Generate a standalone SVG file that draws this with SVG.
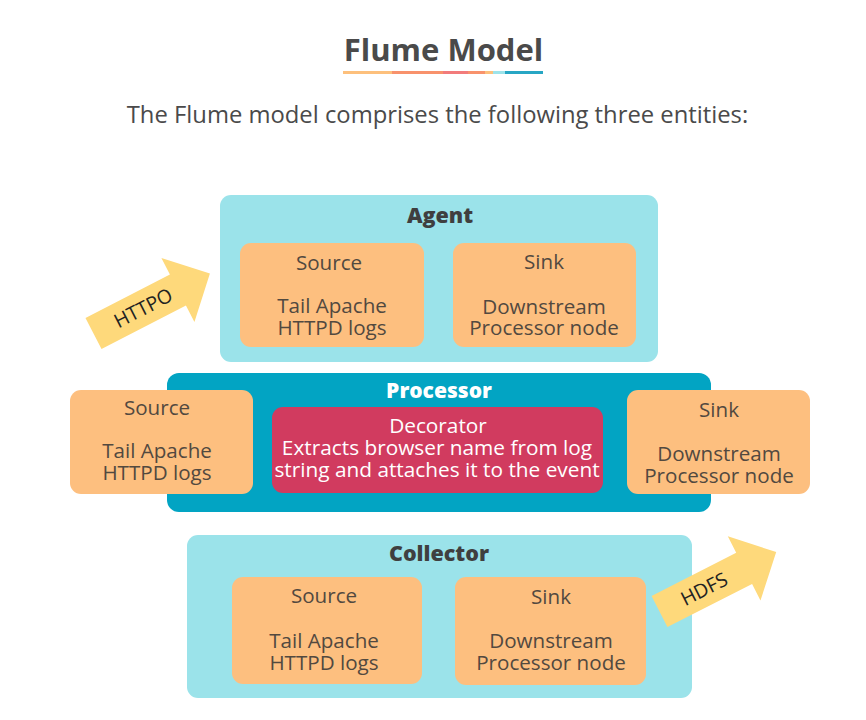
<svg xmlns="http://www.w3.org/2000/svg" width="866" height="720" viewBox="0 0 866 720">
<style>
text{font-family:"Open Sans","Noto Sans","DejaVu Sans",sans-serif;}
.title{font-size:31px;font-weight:bold;fill:#4a4a4a;text-anchor:middle;}
.sub{font-size:23.8px;fill:#4a4a4a;text-anchor:middle;}
.lbl{font-size:21.5px;font-weight:800;fill:#3f3f3f;text-anchor:middle;}
.lblw{font-size:21px;font-weight:800;fill:#ffffff;text-anchor:middle;}
.t{font-size:20.6px;fill:#52493f;text-anchor:middle;}
.tw{font-size:20.8px;fill:#ffffff;text-anchor:middle;}
.at{font-size:19.5px;fill:#222222;text-anchor:middle;}
.outer{fill:#9be3ea;}
.proc{fill:#02a4c3;}
.box{fill:#fdbf7f;}
.dec{fill:#d13b5f;}
.arr{fill:#fed97b;}
</style>
<defs>
<polygon id="bigarrow" points="0,-17.5 95,-17.5 95,-36 131,0 95,36 95,17.5 0,17.5"/>
</defs>
<rect width="866" height="720" fill="#ffffff"/>
<g id="title">
<text class="title" x="443.5" y="61">Flume Model</text>
<rect x="343" y="71" width="49" height="3" fill="#fdc07c"/>
<rect x="392" y="71" width="51" height="3" fill="#f8926c"/>
<rect x="443" y="71" width="25" height="3" fill="#f27b7b"/>
<rect x="468" y="71" width="17" height="3" fill="#f8926c"/>
<rect x="485" y="71" width="8" height="3" fill="#fdc07c"/>
<rect x="493" y="71" width="12" height="3" fill="#9de3ea"/>
<rect x="505" y="71" width="38" height="3" fill="#27a6c4"/>
<text class="sub" x="437.5" y="123">The Flume model comprises the following three entities:</text>
</g>
<g id="agent">
<rect class="outer" x="220" y="195" width="438" height="167" rx="11"/>
<text class="lbl" x="440" y="223">Agent</text>
</g>
<g id="agent-source">
<rect class="box" x="240" y="243" width="184" height="104" rx="11"/>
<text class="t" x="329" y="270">Source</text>
<text class="t" x="332" y="313">Tail Apache</text>
<text class="t" x="332" y="335">HTTPD logs</text>
</g>
<g id="agent-sink">
<rect class="box" x="453" y="243" width="183" height="104" rx="11"/>
<text class="t" x="544" y="269">Sink</text>
<text class="t" x="544" y="314">Downstream</text>
<text class="t" x="544" y="335">Processor node</text>
</g>
<g id="processor">
<rect class="proc" x="167" y="373" width="544" height="139" rx="12"/>
<text class="lblw" x="439" y="398">Processor</text>
</g>
<g id="processor-source">
<rect class="box" x="70" y="390" width="183" height="104" rx="11"/>
<text class="t" x="157" y="415">Source</text>
<text class="t" x="157" y="458">Tail Apache</text>
<text class="t" x="157" y="480">HTTPD logs</text>
</g>
<g id="decorator">
<rect class="dec" x="272" y="407" width="331" height="86" rx="11"/>
<text class="tw" x="438" y="433">Decorator</text>
<text class="tw" x="437" y="455">Extracts browser name from log</text>
<text class="tw" x="437" y="477">string and attaches it to the event</text>
</g>
<g id="processor-sink">
<rect class="box" x="627" y="390" width="183" height="104" rx="11"/>
<text class="t" x="719" y="417">Sink</text>
<text class="t" x="719" y="461">Downstream</text>
<text class="t" x="719" y="483">Processor node</text>
</g>
<g id="collector">
<rect class="outer" x="187" y="535" width="505" height="163" rx="11"/>
<text class="lbl" x="439" y="561">Collector</text>
</g>
<g id="collector-source">
<rect class="box" x="232" y="577" width="190" height="107" rx="11"/>
<text class="t" x="324" y="603">Source</text>
<text class="t" x="324" y="648">Tail Apache</text>
<text class="t" x="324" y="670">HTTPD logs</text>
</g>
<g id="collector-sink">
<rect class="box" x="455" y="577" width="191" height="108" rx="11"/>
<text class="t" x="551" y="604">Sink</text>
<text class="t" x="551" y="648">Downstream</text>
<text class="t" x="551" y="670">Processor node</text>
</g>
<g id="connectors">
<g id="httpo-arrow" transform="translate(93.5,333.5) rotate(-27.3)">
<use href="#bigarrow" class="arr"/>
<text class="at" x="56" y="7">HTTPO</text>
</g>
<g id="hdfs-arrow" transform="translate(659.5,611.5) rotate(-27)">
<use href="#bigarrow" class="arr"/>
<text class="at" x="50" y="7">HDFS</text>
</g>
</g>
</svg>
